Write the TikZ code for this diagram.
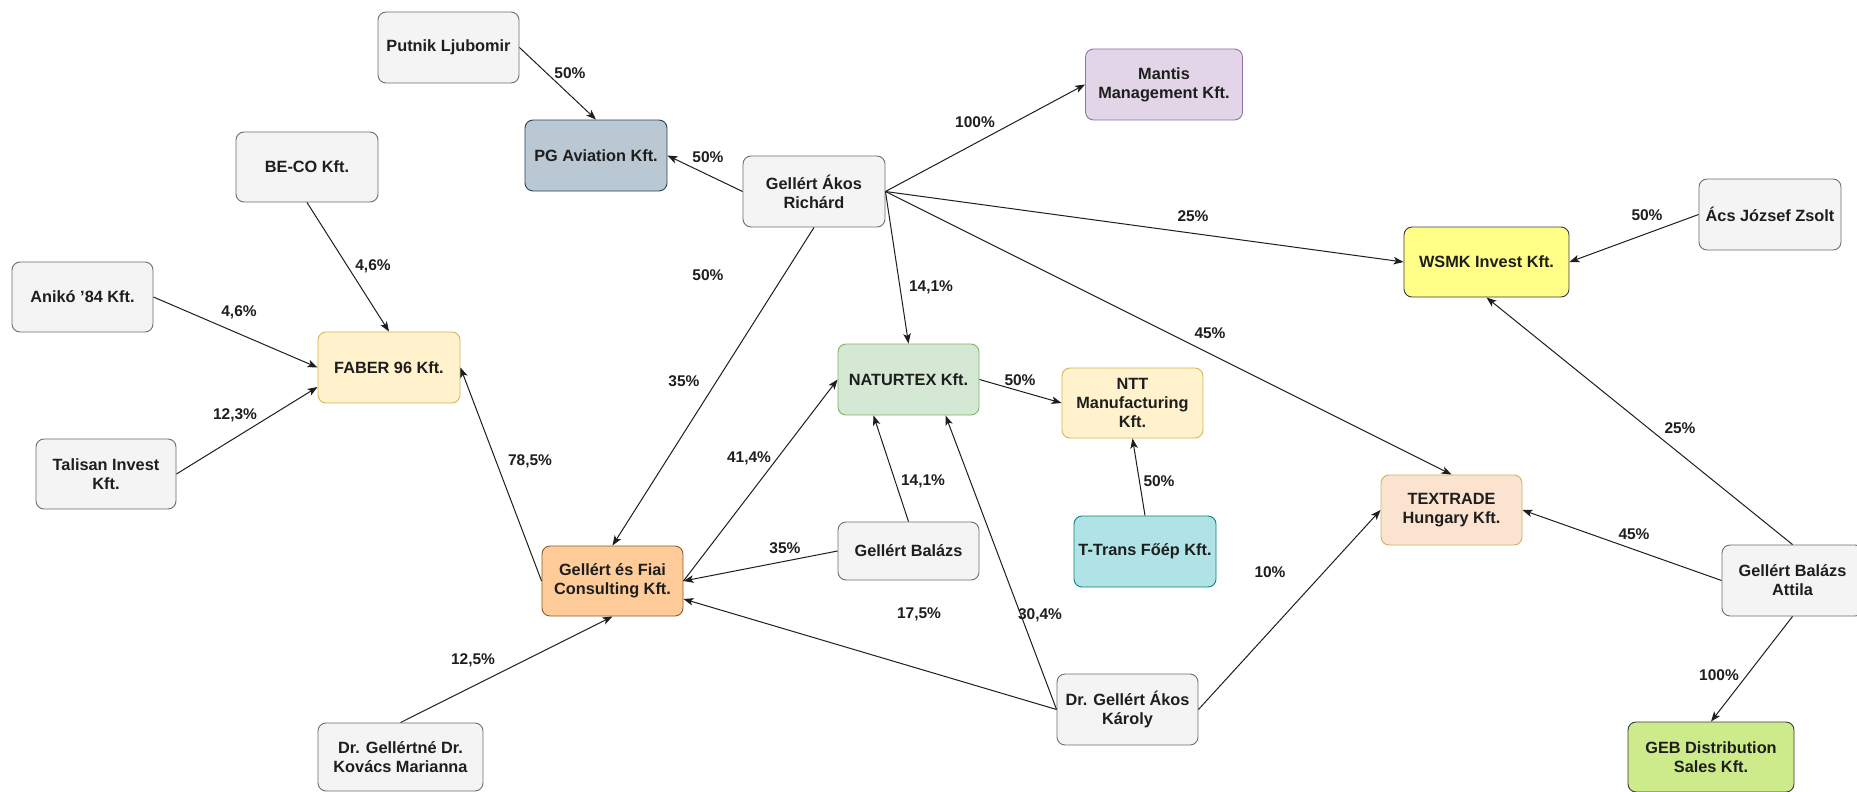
\documentclass[tikz,border=0pt]{standalone}
\usepackage{fontspec}
\setmainfont{Liberation Sans}
\usetikzlibrary{arrows.meta}
\definecolor{grayfill}{HTML}{F4F4F4}
\definecolor{graystroke}{HTML}{6E6E6E}
\definecolor{pgfill}{HTML}{BAC8D3}
\definecolor{pgstroke}{HTML}{23445D}
\definecolor{mantisfill}{HTML}{E1D5E7}
\definecolor{mantisstroke}{HTML}{9673A6}
\definecolor{yelfill}{HTML}{FFF2CC}
\definecolor{yelstroke}{HTML}{D6B656}
\definecolor{greenfill}{HTML}{D5E8D4}
\definecolor{greenstroke}{HTML}{82B366}
\definecolor{wsmkfill}{HTML}{FFFF88}
\definecolor{darkstroke}{HTML}{36393D}
\definecolor{texfill}{HTML}{FCE3CF}
\definecolor{texstroke}{HTML}{CDB060}
\definecolor{tealfill}{HTML}{B0E3E6}
\definecolor{tealstroke}{HTML}{0E8088}
\definecolor{orangefill}{HTML}{FFCC99}
\definecolor{orangestroke}{HTML}{8A5A2B}
\definecolor{limefill}{HTML}{CDEB8B}
\definecolor{txt}{HTML}{1E1E1E}
\tikzset{
  box/.style={draw=graystroke, fill=grayfill, rounded corners=8pt, line width=0.9pt,
    align=center, inner sep=0pt, text=txt,
    font=\fontsize{16.3}{19}\selectfont\bfseries},
  conn/.style={draw=txt, line width=1pt, -{Stealth[length=10pt,width=7.5pt,inset=2.5pt]}},
  pct/.style={text=txt, font=\fontsize{15.5}{18}\selectfont\bfseries, inner sep=0pt}
}
\begin{document}
\begin{tikzpicture}[x=1pt,y=-1pt]
\useasboundingbox (0,0) rectangle (1857,792);
\fill[white] (0,0) rectangle (1857,792);

% nodes
\node[box, minimum width=141pt, minimum height=71pt] (putnik) at (448.5,47.5) {Putnik Ljubomir};
\node[box, fill=pgfill, draw=pgstroke, minimum width=142pt, minimum height=71pt] (pg) at (596,155.5) {PG Aviation Kft.};
\node[box, fill=mantisfill, draw=mantisstroke, minimum width=157pt, minimum height=71pt] (mantis) at (1164,84.5) {Mantis\\Management Kft.};
\node[box, minimum width=142pt, minimum height=71pt] (gar) at (814,191.5) {Gellért Ákos\\Richárd};
\node[box, minimum width=142pt, minimum height=70pt] (beco) at (307,167) {BE-CO Kft.};
\node[box, minimum width=141pt, minimum height=70pt] (aniko) at (82.5,297) {Anikó '84 Kft.};
\node[box, fill=yelfill, draw=yelstroke, minimum width=142pt, minimum height=71pt] (faber) at (389,367.5) {FABER 96 Kft.};
\node[box, minimum width=140pt, minimum height=70pt] (talisan) at (106,474) {Talisan Invest\\Kft.};
\node[box, fill=greenfill, draw=greenstroke, minimum width=141pt, minimum height=71pt] (naturtex) at (908.5,379.5) {NATURTEX Kft.};
\node[box, fill=yelfill, draw=yelstroke, minimum width=141pt, minimum height=70pt] (ntt) at (1132.5,403) {NTT\\Manufacturing\\Kft.};
\node[box, fill=wsmkfill, draw=darkstroke, minimum width=165pt, minimum height=70pt] (wsmk) at (1486.5,262) {WSMK Invest Kft.};
\node[box, minimum width=142pt, minimum height=71pt] (acs) at (1770,214.5) {Ács József Zsolt};
\node[box, fill=texfill, draw=texstroke, minimum width=141pt, minimum height=70pt] (textrade) at (1451.5,510) {TEXTRADE\\Hungary Kft.};
\node[box, fill=tealfill, draw=tealstroke, minimum width=142pt, minimum height=71pt] (ttrans) at (1145,551.5) {T-Trans Főép Kft.};
\node[box, minimum width=141pt, minimum height=58pt] (gb) at (908.5,551) {Gellért Balázs};
\node[box, fill=orangefill, draw=orangestroke, minimum width=141pt, minimum height=70pt] (consulting) at (612.5,581) {Gellért és Fiai\\Consulting Kft.};
\node[box, minimum width=141pt, minimum height=71pt] (karoly) at (1127.5,709.5) {Dr. Gellért Ákos\\Károly};
\node[box, minimum width=165pt, minimum height=68pt] (marianna) at (400.5,757) {Dr. Gellértné Dr.\\Kovács Marianna};
\node[box, minimum width=141pt, minimum height=71pt] (gba) at (1792.5,580.5) {Gellért Balázs\\Attila};
\node[box, fill=limefill, draw=darkstroke, minimum width=166pt, minimum height=70pt] (geb) at (1711,757) {GEB Distribution\\Sales Kft.};

% connectors
\draw[conn] (putnik.east) -- (pg.north);
\draw[conn] (gar.west) -- (pg.east);
\draw[conn] (gar.east) -- (mantis.west);
\draw[conn] (gar.east) -- (wsmk.west);
\draw[conn] (gar.east) -- (textrade.north);
\draw[conn] (gar.east) -- (naturtex.north);
\draw[conn] (gar.south) -- (consulting.north);
\draw[conn] (beco.south) -- (faber.north);
\draw[conn] (aniko.east) -- (faber.west);
\draw[conn] (talisan.east) -- ([yshift=-19.5pt]faber.west);
\draw[conn] (consulting.west) -- (faber.east);
\draw[conn] (consulting.east) -- (naturtex.west);
\draw[conn] (gb.west) -- (consulting.east);
\draw[conn] (gb.north) -- ([xshift=-35pt]naturtex.south);
\draw[conn] (karoly.west) -- ([xshift=37pt]naturtex.south);
\draw[conn] (karoly.west) -- ([yshift=-18pt]consulting.east);
\draw[conn] (karoly.east) -- (textrade.west);
\draw[conn] (naturtex.east) -- (ntt.west);
\draw[conn] (ttrans.north) -- (ntt.south);
\draw[conn] (acs.west) -- (wsmk.east);
\draw[conn] (gba.north) -- (wsmk.south);
\draw[conn] (gba.west) -- (textrade.east);
\draw[conn] (gba.south) -- (geb.north);
\draw[conn] (marianna.north) -- (consulting.south);

% labels
\node[pct] (l1) at (570,73) {50\%};
\node[pct] (l2) at (708,157) {50\%};
\node[pct] (l3) at (975,122) {100\%};
\node[pct] (l4) at (1193,216) {25\%};
\node[pct] (l5) at (1210,333) {45\%};
\node[pct] (l6) at (931,287) {14,1\%};
\node[pct] (l7) at (708,275) {50\%};
\node[pct] (l8) at (684,381) {35\%};
\node[pct] (l9) at (373,266) {4,6\%};
\node[pct] (l10) at (239,312) {4,6\%};
\node[pct] (l11) at (235,415) {12,3\%};
\node[pct] (l12) at (530,461) {78,5\%};
\node[pct] (l13) at (749,458) {41,4\%};
\node[pct] (l14) at (785,548) {35\%};
\node[pct] (l15) at (923,481) {14,1\%};
\node[pct] (l16) at (1040,615) {30,4\%};
\node[pct] (l17) at (919,614) {17,5\%};
\node[pct] (l18) at (1270,572) {10\%};
\node[pct] (l19) at (1020,380) {50\%};
\node[pct] (l20) at (1159,481) {50\%};
\node[pct] (l21) at (1647,215) {50\%};
\node[pct] (l22) at (1680,428) {25\%};
\node[pct] (l23) at (1634,534) {45\%};
\node[pct] (l24) at (1719,675) {100\%};
\node[pct] (l25) at (473,660) {12,5\%};
\end{tikzpicture}
\end{document}
